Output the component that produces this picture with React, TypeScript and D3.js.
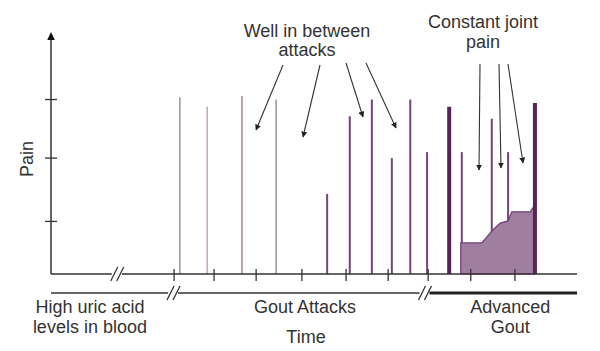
import * as d3 from "d3";

// time runs 0..100 (arbitrary units), pain runs 0..100
const timeTicks = [23.4, 31.0, 39.0, 47.7, 56.1, 64.1, 71.7, 79.8, 88.2];
const painTicks = [22, 48.5, 73];

// individual attacks (spikes)
const spikeTime = [24.5, 29.7, 36.3, 42.8, 52.5, 56.8, 61.0, 64.8, 68.3, 71.5, 75.7, 78.1, 83.8, 86.9, 92.0];
const spikePain = [74, 70, 74.5, 73, 33.5, 66, 73, 48.5, 73, 51, 70, 51, 65, 51, 71.5];
const spikeStage = [
  "grey", "pink", "mauve", "grey",
  "attack", "attack", "attack", "attack", "attack", "attack",
  "severe", "attack", "attack", "attack", "severe",
];

// constant joint pain in advanced gout
const constTime = [77.9, 81.9, 84.0, 85.4, 86.9, 87.6, 91.1, 92.0];
const constPain = [13, 13, 18.4, 21.3, 22.2, 26, 26, 28.9];

// breaks in the time axis and the phase line
const axisBreaks = [12.5];
const phaseBreaks = [23.2, 71];
const phaseLabels = [["High uric acid", "levels in blood"], ["Gout Attacks"], ["Advanced", "Gout"]];

const W = 600;
const H = 351;
const FONT = "'Liberation Sans', Arial, Helvetica, sans-serif";
const INK = "#333";

const stageColor = d3
  .scaleOrdinal<string, string>()
  .domain(["grey", "pink", "mauve", "attack", "severe"])
  .range(["#a39aa0", "#c4a6c6", "#a68a9e", "#74437a", "#5a2358"]);
const stageWidth: Record<string, number> = { grey: 1.6, pink: 1.6, mauve: 1.6, attack: 2, severe: 4 };

export default function App() {
  const x = d3.scaleLinear().domain([0, 100]).range([51, 577]);
  const y = d3.scaleLinear().domain([0, 100]).range([274, 35]);
  const base = y(0);
  const phaseY = 293;

  const constData = constTime.map((t, i) => ({ t, p: constPain[i] }));
  const area = d3
    .area<{ t: number; p: number }>()
    .x((d) => x(d.t))
    .y0(base)
    .y1((d) => y(d.p))
    .curve(d3.curveLinear);

  const spikes = spikeTime.map((t, i) => ({ t, p: spikePain[i], s: spikeStage[i] }));

  const breakMark = (cx: number, cy: number, key: string) => (
    <g key={key} stroke={INK} strokeWidth={1.3}>
      <rect x={cx - 5} y={cy - 2} width={10} height={4} fill="#fff" stroke="none" />
      <line x1={cx - 6} y1={cy + 7} x2={cx + 1} y2={cy - 7} />
      <line x1={cx} y1={cy + 7} x2={cx + 7} y2={cy - 7} />
    </g>
  );

  const wellArrows = [
    [[283, 65], [256, 130]],
    [[320, 65], [303, 137]],
    [[346, 63], [363, 117]],
    [[366, 63], [396, 128]],
  ];
  const constArrows = [
    [[480, 64], [479, 170]],
    [[499, 64], [501, 168]],
    [[508, 64], [523, 163]],
  ];

  const labelX = [x(7.4), x(48.3), x(87.3)];

  return (
    <div style={{ position: "fixed", left: 0, top: 0 }}>
      <svg width={W} height={H} style={{ display: "block", background: "#fff" }} fontFamily={FONT}>
        <defs>
          <marker id="ah" viewBox="0 0 10 10" refX="9" refY="5" markerWidth="6" markerHeight="6"
            markerUnits="userSpaceOnUse" orient="auto">
            <path d="M0,0 L10,5 L0,10 z" fill="#222" />
          </marker>
        </defs>

        {/* thin spikes */}
        {spikes.filter((d) => d.s !== "severe").map((d, i) => (
          <line key={"s" + i} x1={x(d.t)} x2={x(d.t)} y1={base} y2={y(d.p)}
            stroke={stageColor(d.s)} strokeWidth={stageWidth[d.s]} />
        ))}

        {/* constant joint pain */}
        <path d={area(constData) || ""} fill="#a07ea2" stroke="#6e3f70" strokeWidth={1.2} />

        {/* severe spikes */}
        {spikes.filter((d) => d.s === "severe").map((d, i) => (
          <line key={"v" + i} x1={x(d.t)} x2={x(d.t)} y1={base} y2={y(d.p)}
            stroke={stageColor(d.s)} strokeWidth={stageWidth[d.s]} />
        ))}

        {/* axes */}
        <line x1={x(0)} x2={x(0)} y1={base} y2={38} stroke={INK} strokeWidth={1.5} />
        <path d={`M${x(0)},32 L${x(0) + 3.8},40 L${x(0) - 3.8},40 Z`} fill="#111" />
        <line x1={x(0)} x2={x(100)} y1={base} y2={base} stroke={INK} strokeWidth={1.5} />
        {painTicks.map((p, i) => (
          <line key={"py" + i} x1={x(0) - 6} x2={x(0) + 6} y1={y(p)} y2={y(p)} stroke={INK} strokeWidth={1.3} />
        ))}
        {timeTicks.map((t, i) => (
          <line key={"tx" + i} x1={x(t)} x2={x(t)} y1={base - 5} y2={base + 7} stroke={INK} strokeWidth={1.3} />
        ))}
        {axisBreaks.map((t, i) => breakMark(x(t), base, "ab" + i))}

        {/* phase line */}
        <line x1={x(0)} x2={x(phaseBreaks[1])} y1={phaseY} y2={phaseY} stroke={INK} strokeWidth={1.4} />
        <line x1={x(phaseBreaks[1])} x2={x(100)} y1={phaseY} y2={phaseY} stroke="#222" strokeWidth={3} />
        {phaseBreaks.map((t, i) => breakMark(x(t), phaseY, "pb" + i))}

        {/* labels */}
        <g fill={INK} fontSize={18} textAnchor="middle">
          {phaseLabels.map((lines, i) =>
            lines.map((s, j) => (
              <text key={"pl" + i + j} x={labelX[i]} y={313 + j * 20}>{s}</text>
            ))
          )}
          <text x={306} y={343}>Time</text>
          <text transform={`translate(33,159) rotate(-90)`}>Pain</text>
        </g>

        {/* annotations */}
        <g fill={INK} fontSize={18} textAnchor="middle">
          <text x={307} y={37}>Well in between</text>
          <text x={307} y={56}>attacks</text>
          <text x={483} y={28}>Constant joint</text>
          <text x={483} y={48}>pain</text>
        </g>
        {[...wellArrows, ...constArrows].map(([a, b], i) => (
          <line key={"ar" + i} x1={a[0]} y1={a[1]} x2={b[0]} y2={b[1]} stroke="#333" strokeWidth={1.1}
            markerEnd="url(#ah)" />
        ))}
      </svg>
    </div>
  );
}
